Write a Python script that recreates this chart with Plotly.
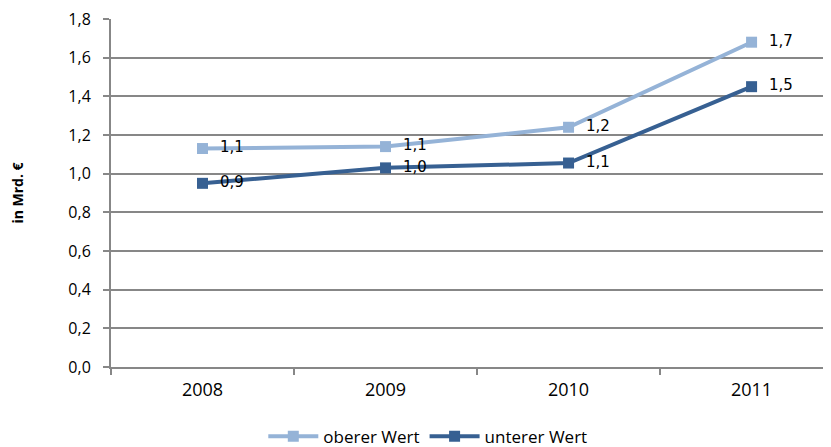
import plotly.graph_objects as go

years = ["2008", "2009", "2010", "2011"]
oberer = [1.13, 1.14, 1.24, 1.68]
unterer = [0.95, 1.03, 1.055, 1.45]
oberer_labels = ["1,1", "1,1", "1,2", "1,7"]
unterer_labels = ["0,9", "1,0", "1,1", "1,5"]
y_ticks = [0, 0.2, 0.4, 0.6, 0.8, 1.0, 1.2, 1.4, 1.6, 1.8]
y_tick_labels = ["0,0", "0,2", "0,4", "0,6", "0,8", "1,0", "1,2", "1,4", "1,6", "1,8"]

c_light = "#95B3D7"
c_dark = "#376092"
grid = "#878787"

fig = go.Figure()
fig.add_trace(go.Scatter(
    x=years, y=oberer, name="oberer Wert", mode="lines+markers+text",
    line=dict(color=c_light, width=4),
    marker=dict(symbol="square", size=11, color=c_light),
    text=oberer_labels, texttemplate="  %{text}", textposition="middle right",
    textfont=dict(family="DejaVu Sans", size=15, color="#000000"),
))
fig.add_trace(go.Scatter(
    x=years, y=unterer, name="unterer Wert", mode="lines+markers+text",
    line=dict(color=c_dark, width=4),
    marker=dict(symbol="square", size=11, color=c_dark),
    text=unterer_labels, texttemplate="  %{text}", textposition="middle right",
    textfont=dict(family="DejaVu Sans", size=15, color="#000000"),
))

fig.update_layout(
    width=823, height=439,
    margin=dict(l=103, r=0, t=11, b=80, autoexpand=False),
    paper_bgcolor="white", plot_bgcolor="white",
    font=dict(family="Open Sans", size=16, color="#000000"),
    showlegend=True,
    legend=dict(orientation="h", x=0.44, xanchor="center", y=-0.2, yanchor="middle",
                font=dict(family="Open Sans", size=17), itemwidth=50, tracegroupgap=0),
    xaxis=dict(
        type="category", range=[-0.5, 3.434], tickson="boundaries",
        showgrid=False, showline=True, linecolor=grid, linewidth=2,
        ticks="outside", ticklen=6, tickcolor=grid, tickwidth=2,
        tickfont=dict(family="Open Sans", size=18), ticklabelstandoff=5,
    ),
    yaxis=dict(
        range=[0, 1.8], tickvals=y_ticks, ticktext=y_tick_labels,
        showgrid=True, gridcolor=grid, gridwidth=2,
        showline=True, linecolor=grid, linewidth=2,
        ticks="outside", ticklen=6, tickcolor=grid, tickwidth=2,
        tickfont=dict(family="Open Sans", size=16), ticklabelstandoff=9,
        ticklabeloverflow="allow",
        zeroline=False,
        title=dict(text="<b>in Mrd. €</b>", font=dict(family="Open Sans", size=14), standoff=42),
    ),
)

fig.write_html("out.html")
